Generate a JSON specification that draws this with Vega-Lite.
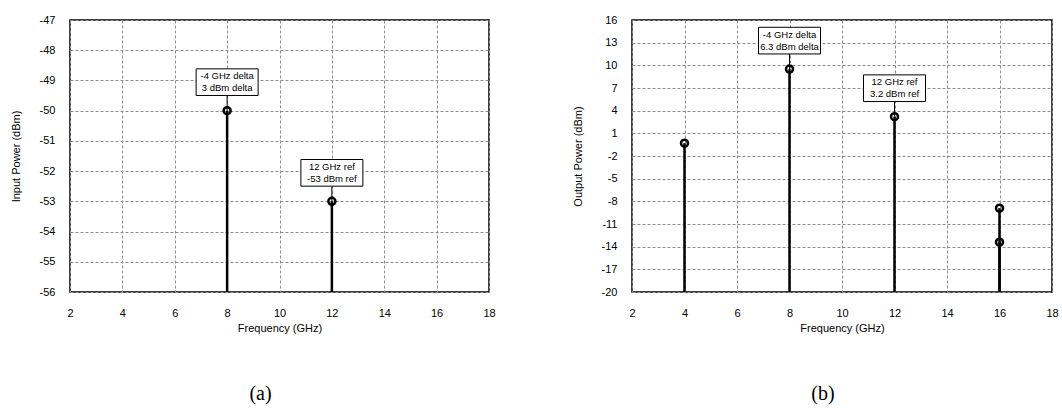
{
  "$schema": "https://vega.github.io/schema/vega-lite/v6.json",
  "background": "white",
  "padding": {"left": 9, "top": 13, "right": 0, "bottom": 0},
  "spacing": 143,
  "bounds": "flush",
  "config": {
    "font": "Liberation Sans",
    "view": {"stroke": "black", "strokeWidth": 1.5},
    "axis": {
      "domain": false,
      "ticks": false,
      "grid": true,
      "gridColor": "#8c8c8c",
      "gridDash": [3, 2],
      "gridWidth": 1,
      "labelFont": "Liberation Sans",
      "labelFontSize": 11,
      "labelColor": "black",
      "labelPadding": 15,
      "labelExpr": "datum.value + ''",
      "titleFont": "Liberation Sans",
      "titleFontSize": 11,
      "titleFontWeight": "normal",
      "titleColor": "black"
    },
    "axisX": {"titlePadding": 4, "labelFlush": false},
    "axisY": {"titlePadding": 18, "labelFlush": false},
    "title": {"font": "Liberation Serif", "fontSize": 20, "fontWeight": "normal", "color": "black", "orient": "bottom", "anchor": "middle", "dx": -19, "offset": 51}
  },
  "hconcat": [
    {
      "width": 419,
      "height": 272,
      "title": {"text": "(a)"},
      "data": {"values": [
        {"f": 8, "p": -50, "label": "-4 GHz delta\n3 dBm delta"},
        {"f": 12, "p": -53, "label": "12 GHz ref\n-53 dBm ref"}
      ]},
      "encoding": {
        "x": {"field": "f", "type": "quantitative", "scale": {"domain": [2, 18], "nice": false}, "axis": {"values": [2, 4, 6, 8, 10, 12, 14, 16, 18], "title": "Frequency (GHz)"}},
        "y": {"field": "p", "type": "quantitative", "scale": {"domain": [-56, -47], "nice": false, "zero": false}, "axis": {"values": [-56, -55, -54, -53, -52, -51, -50, -49, -48, -47], "title": "Input Power (dBm)"}}
      },
      "layer": [
        {"mark": {"type": "rule", "color": "black", "strokeWidth": 2.5}, "encoding": {"y2": {"value": "height"}}},
        {"mark": {"type": "rule", "color": "black", "strokeWidth": 1, "y2Offset": -15}, "encoding": {"y2": {"field": "p"}}},
        {"mark": {"type": "point", "shape": "circle", "filled": false, "stroke": "black", "strokeWidth": 2.5, "size": 49, "opacity": 1}},
        {"mark": {"type": "point", "shape": "M-1,-0.43H1V0.43H-1Z", "size": 3844, "filled": true, "fill": "white", "stroke": "black", "strokeWidth": 1, "opacity": 1, "yOffset": -28.5}},
        {"mark": {"type": "text", "fontSize": 9.5, "font": "Liberation Sans", "color": "black", "lineBreak": "\n", "lineHeight": 12, "baseline": "middle", "align": "center", "yOffset": -34.5}, "encoding": {"text": {"field": "label"}}}
      ]
    },
    {
      "width": 420,
      "height": 272,
      "title": {"text": "(b)"},
      "data": {"values": [
        {"f": 4, "p": -0.3, "label": ""},
        {"f": 8, "p": 9.5, "label": "-4 GHz delta\n6.3 dBm delta"},
        {"f": 12, "p": 3.2, "label": "12 GHz ref\n3.2 dBm ref"},
        {"f": 16, "p": -8.9, "label": ""},
        {"f": 16, "p": -13.4, "label": ""}
      ]},
      "encoding": {
        "x": {"field": "f", "type": "quantitative", "scale": {"domain": [2, 18], "nice": false}, "axis": {"values": [2, 4, 6, 8, 10, 12, 14, 16, 18], "title": "Frequency (GHz)"}},
        "y": {"field": "p", "type": "quantitative", "scale": {"domain": [-20, 16], "nice": false, "zero": false}, "axis": {"values": [-20, -17, -14, -11, -8, -5, -2, 1, 4, 7, 10, 13, 16], "title": "Output Power (dBm)"}}
      },
      "layer": [
        {"mark": {"type": "rule", "color": "black", "strokeWidth": 2.5}, "encoding": {"y2": {"value": "height"}}},
        {"transform": [{"filter": "datum.label != ''"}], "mark": {"type": "rule", "color": "black", "strokeWidth": 1, "y2Offset": -15}, "encoding": {"y2": {"field": "p"}}},
        {"mark": {"type": "point", "shape": "circle", "filled": false, "stroke": "black", "strokeWidth": 2.5, "size": 49, "opacity": 1}},
        {"transform": [{"filter": "datum.label != ''"}], "mark": {"type": "point", "shape": "M-1,-0.43H1V0.43H-1Z", "size": 3844, "filled": true, "fill": "white", "stroke": "black", "strokeWidth": 1, "opacity": 1, "yOffset": -28.5}},
        {"transform": [{"filter": "datum.label != ''"}], "mark": {"type": "text", "fontSize": 9.5, "font": "Liberation Sans", "color": "black", "lineBreak": "\n", "lineHeight": 12, "baseline": "middle", "align": "center", "yOffset": -34.5}, "encoding": {"text": {"field": "label"}}}
      ]
    }
  ]
}
